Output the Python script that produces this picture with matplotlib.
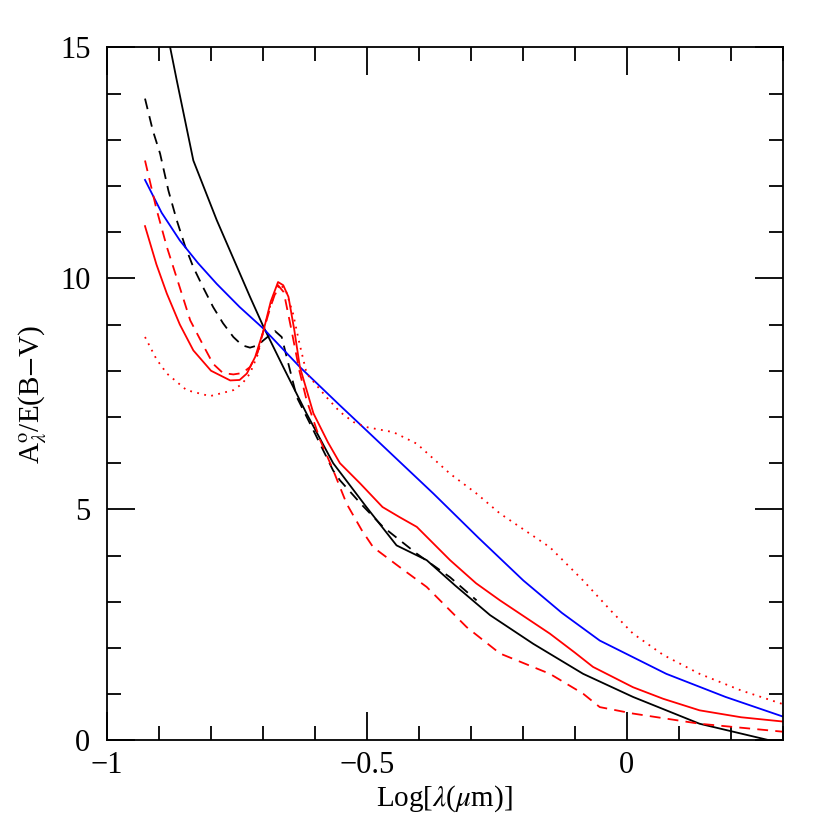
import matplotlib
matplotlib.use("Agg")
import matplotlib.pyplot as plt
from matplotlib.ticker import MultipleLocator

plt.rcParams["font.family"] = "Liberation Serif"
plt.rcParams["mathtext.fontset"] = "stix"

black_solid_x = [-0.927, -0.9, -0.866, -0.834, -0.789, -0.725, -0.699, -0.661, -0.616, -0.565, -0.501, -0.443, -0.385, -0.330, -0.263, -0.180, -0.084, 0.012, 0.14, 0.275, 0.3]
black_solid_y = [17.5, 16.2, 14.29, 12.55, 11.26, 9.6, 8.95, 8.08, 7.07, 6.0, 5.05, 4.22, 3.90, 3.35, 2.71, 2.09, 1.44, 0.94, 0.36, 0.0, -0.05]

black_dash_x = [-0.927, -0.912, -0.898, -0.882, -0.866, -0.850, -0.834, -0.815, -0.796, -0.777, -0.757, -0.740, -0.725, -0.710, -0.699, -0.677, -0.664, -0.650, -0.635, -0.603, -0.565, -0.552, -0.510, -0.469, -0.404, -0.340, -0.289]
black_dash_y = [13.89, 13.2, 12.7, 11.9, 11.26, 10.7, 10.24, 9.8, 9.38, 9.03, 8.73, 8.55, 8.5, 8.55, 8.66, 8.86, 8.73, 8.1, 7.43, 6.71, 5.84, 5.63, 5.1, 4.62, 4.04, 3.53, 3.03]

blue_x = [-0.927, -0.895, -0.860, -0.825, -0.789, -0.745, -0.699, -0.629, -0.552, -0.501, -0.437, -0.372, -0.285, -0.199, -0.125, -0.052, 0.076, 0.190, 0.307]
blue_y = [12.13, 11.42, 10.82, 10.33, 9.88, 9.38, 8.91, 8.08, 7.25, 6.71, 6.03, 5.34, 4.38, 3.46, 2.76, 2.16, 1.44, 0.94, 0.49]

red_solid_x = [-0.927, -0.905, -0.885, -0.860, -0.834, -0.800, -0.763, -0.745, -0.731, -0.715, -0.699, -0.685, -0.671, -0.661, -0.651, -0.640, -0.629, -0.603, -0.575, -0.552, -0.513, -0.470, -0.437, -0.404, -0.340, -0.290, -0.244, -0.148, -0.100, -0.065, 0.012, 0.070, 0.140, 0.220, 0.307]
red_solid_y = [11.13, 10.3, 9.67, 9.0, 8.44, 8.0, 7.79, 7.8, 7.94, 8.3, 8.87, 9.5, 9.92, 9.85, 9.6, 8.9, 8.08, 7.08, 6.45, 6.0, 5.56, 5.05, 4.83, 4.62, 3.90, 3.40, 3.03, 2.31, 1.90, 1.59, 1.15, 0.90, 0.65, 0.50, 0.40]

red_dash_x = [-0.927, -0.905, -0.885, -0.860, -0.840, -0.815, -0.796, -0.777, -0.757, -0.740, -0.725, -0.710, -0.699, -0.685, -0.671, -0.660, -0.645, -0.630, -0.616, -0.590, -0.565, -0.539, -0.510, -0.488, -0.437, -0.385, -0.308, -0.244, -0.148, -0.084, -0.052, 0.012, 0.14, 0.307]
red_dash_y = [12.55, 11.5, 10.68, 9.8, 9.09, 8.55, 8.15, 7.95, 7.92, 7.95, 8.08, 8.4, 8.87, 9.4, 9.85, 9.7, 8.87, 8.0, 7.36, 6.5, 5.85, 5.12, 4.55, 4.18, 3.75, 3.32, 2.45, 1.88, 1.44, 1.01, 0.72, 0.58, 0.36, 0.18]

red_dot_x = [-0.927, -0.905, -0.885, -0.847, -0.802, -0.757, -0.740, -0.725, -0.710, -0.699, -0.685, -0.667, -0.655, -0.642, -0.630, -0.616, -0.578, -0.552, -0.526, -0.501, -0.449, -0.404, -0.340, -0.290, -0.244, -0.148, -0.084, -0.030, 0.012, 0.070, 0.140, 0.220, 0.307]
red_dot_y = [8.73, 8.25, 7.94, 7.58, 7.45, 7.58, 7.72, 7.94, 8.35, 8.87, 9.45, 9.88, 9.7, 9.23, 8.6, 7.94, 7.43, 7.11, 6.89, 6.78, 6.67, 6.42, 5.77, 5.35, 4.91, 4.18, 3.46, 2.80, 2.31, 1.85, 1.44, 1.08, 0.76]

fig = plt.figure(figsize=(8.3, 8.3), dpi=100)
ax = fig.add_axes([0.129, 0.108, 0.814, 0.835])
lw = 1.3
ax.plot(black_solid_x, black_solid_y, color="black", lw=lw)
ax.plot(black_dash_x, black_dash_y, color="black", lw=lw, ls=(0, (6, 4)))
ax.plot(blue_x, blue_y, color="blue", lw=lw)
ax.plot(red_solid_x, red_solid_y, color="red", lw=lw)
ax.plot(red_dash_x, red_dash_y, color="red", lw=lw, ls=(0, (6, 4)))
ax.plot(red_dot_x, red_dot_y, color="red", lw=lw, ls=(0, (1, 3)))

ax.set_xlim(-1, 0.3)
ax.set_ylim(0, 15)
ax.xaxis.set_minor_locator(MultipleLocator(0.1))
ax.yaxis.set_major_locator(MultipleLocator(5))
ax.yaxis.set_minor_locator(MultipleLocator(1))
ax.set_xticks([-1, -0.5, 0])
ax.set_xticklabels(["\u22121", "\u22120.5", "0"])
ax.tick_params(which="both", direction="in", top=True, right=True, width=1.3, labelsize=22)
ax.tick_params(which="major", length=20)
ax.tick_params(which="minor", length=10)
ax.tick_params(axis="y", pad=12)
ax.tick_params(axis="x", pad=8)
for s in ax.spines.values():
    s.set_linewidth(1.3)
ax.set_xlabel(r"Log[$\lambda$($\mu$m)]", fontsize=21, labelpad=2)
ax.set_ylabel(r"A$^{\rm o}_{\lambda}$/E(B$-$V)", fontsize=21, labelpad=8)
fig.savefig("out.png", dpi=100)
